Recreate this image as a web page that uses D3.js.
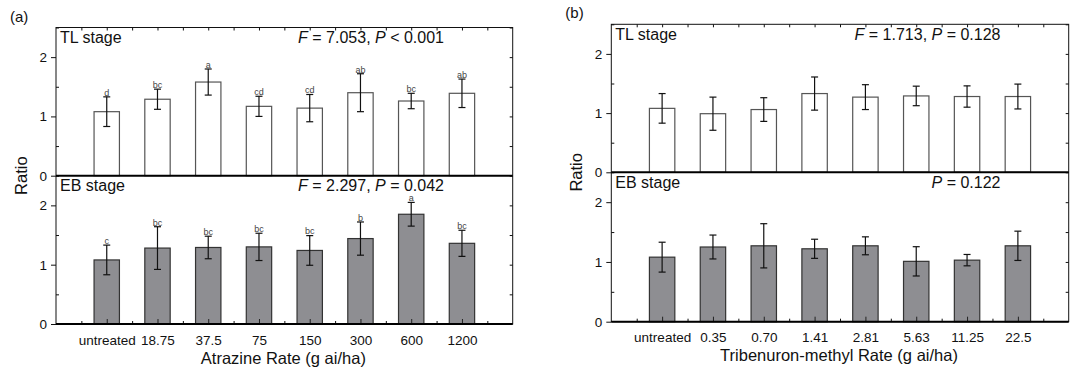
<!DOCTYPE html>
<html>
<head>
<meta charset="utf-8">
<script src="https://cdn.jsdelivr.net/npm/d3@7"></script>
<style>
  body { margin: 0; background: #fff; }
  svg { font-family: "Liberation Sans", Arial, sans-serif; }
</style>
</head>
<body>
<svg id="chart" width="1072" height="370"></svg>
<script>
// categories
const atrazineRates = ["untreated", "18.75", "37.5", "75", "150", "300", "600", "1200"];
const tribenuronRates = ["untreated", "0.35", "0.70", "1.41", "2.81", "5.63", "11.25", "22.5"];

// atrazine series
const atrazineTL = [1.08, 1.29, 1.58, 1.17, 1.14, 1.40, 1.26, 1.39];
const atrazineTLErr = [0.25, 0.17, 0.22, 0.17, 0.23, 0.32, 0.13, 0.24];
const atrazineTLLetters = ["d", "bc", "a", "cd", "cd", "ab", "bc", "ab"];
const atrazineEB = [1.08, 1.28, 1.29, 1.30, 1.24, 1.44, 1.85, 1.36];
const atrazineEBErr = [0.25, 0.36, 0.19, 0.23, 0.25, 0.28, 0.20, 0.22];
const atrazineEBLetters = ["c", "bc", "bc", "bc", "bc", "b", "a", "bc"];

// tribenuron-methyl series
const tribenuronTL = [1.08, 0.99, 1.06, 1.33, 1.27, 1.29, 1.28, 1.28];
const tribenuronTLErr = [0.25, 0.28, 0.20, 0.28, 0.21, 0.165, 0.18, 0.21];
const tribenuronEB = [1.08, 1.25, 1.27, 1.22, 1.27, 1.01, 1.03, 1.27];
const tribenuronEBErr = [0.25, 0.20, 0.37, 0.16, 0.15, 0.245, 0.095, 0.245];

const yTicks = [0, 1, 2];
const yMinorTicks = [0.5, 1.5, 2.5];

const svg = d3.select('#chart');

function drawStage(g, x, y, values, errs, letters, fill, stroke, left, right) {
  const barW = x(1.5) - x(1);
  // bars
  g.selectAll('rect.bar')
    .data(values)
    .enter().append('rect')
    .attr('class', 'bar')
    .attr('x', (d, i) => x(i + 1) - barW / 2)
    .attr('width', barW)
    .attr('y', d => y(d))
    .attr('height', d => y(0) - y(d))
    .style('fill', fill)
    .style('stroke', stroke)
    .style('stroke-width', 1.2);
  // error bars
  const eb = g.append('g').attr('class', 'errors');
  values.forEach((v, i) => {
    const cx = x(i + 1);
    eb.append('line')
      .attr('x1', cx).attr('x2', cx)
      .attr('y1', y(v - errs[i])).attr('y2', y(v + errs[i]))
      .style('stroke', '#111').style('stroke-width', 1.2);
    [v - errs[i], v + errs[i]].forEach(e => {
      eb.append('line')
        .attr('x1', cx - 3.5).attr('x2', cx + 3.5)
        .attr('y1', y(e)).attr('y2', y(e))
        .style('stroke', '#111').style('stroke-width', 1.2);
    });
  });
  // significance letters
  if (letters) {
    g.selectAll('text.letter')
      .data(letters)
      .enter().append('text')
      .attr('class', 'letter')
      .attr('x', (d, i) => x(i + 1))
      .attr('y', (d, i) => y(values[i] + errs[i]) - 1.2)
      .attr('text-anchor', 'middle')
      .style('font-size', '9px')
      .style('fill', '#444')
      .text(d => d);
  }
  // left axis: major outward, minor inward
  g.append('g')
    .attr('transform', `translate(${left},0)`)
    .call(d3.axisLeft(y).tickValues(yTicks).tickSize(5).tickPadding(4).tickFormat(d3.format('d')))
    .call(a => a.select('.domain').remove())
    .call(a => a.selectAll('text').style('font-size', '13.5px').style('fill', '#111').attr('font-family', null))
    .call(a => a.selectAll('line').style('stroke', '#111'));
  g.append('g')
    .attr('transform', `translate(${left},0)`)
    .call(d3.axisRight(y).tickValues(yMinorTicks).tickSize(3).tickFormat(''))
    .call(a => a.select('.domain').remove())
    .call(a => a.selectAll('line').style('stroke', '#111'));
  // right axis ticks inward
  g.append('g')
    .attr('transform', `translate(${right},0)`)
    .call(d3.axisLeft(y).tickValues([0.5, 1, 1.5, 2, 2.5]).tickSize(3).tickFormat(''))
    .call(a => a.select('.domain').remove())
    .call(a => a.selectAll('line').style('stroke', '#111'));
}

function drawPanel(p) {
  const g = svg.append('g');
  const x = d3.scaleLinear().domain([0, 9]).range([p.left, p.right]);
  const yTop = d3.scaleLinear().domain([0, 2.5]).range([p.mid, p.top]);
  const yBot = d3.scaleLinear().domain([0, 2.5]).range([p.bottom, p.mid]);

  drawStage(g.append('g'), x, yTop, p.tl, p.tlErr, p.tlLetters, '#fff', '#555', p.left, p.right);
  drawStage(g.append('g'), x, yBot, p.eb, p.ebErr, p.ebLetters, '#8e8e92', '#333', p.left, p.right);

  // frame
  g.append('rect')
    .attr('x', p.left).attr('y', p.top)
    .attr('width', p.right - p.left).attr('height', p.bottom - p.top)
    .style('fill', 'none').style('stroke', '#111').style('stroke-width', 1);

  const half = d3.range(0.5, 9, 1);
  const whole = d3.range(1, 9);
  // top axis ticks inward
  g.append('g')
    .attr('transform', `translate(0,${p.top})`)
    .call(d3.axisBottom(x).tickValues(d3.range(0.5, 9, 0.5)).tickSize(3).tickFormat(''))
    .call(a => a.select('.domain').remove())
    .call(a => a.selectAll('line').style('stroke', '#111'));
  // middle divider
  g.append('line')
    .attr('x1', p.left).attr('x2', p.right)
    .attr('y1', p.mid).attr('y2', p.mid)
    .style('stroke', '#000').style('stroke-width', 2);
  // bottom axis: major ticks inward at categories, minor between
  g.append('g')
    .attr('transform', `translate(0,${p.bottom})`)
    .call(d3.axisTop(x).tickValues(whole).tickSize(5).tickFormat(''))
    .call(a => a.select('.domain').remove())
    .call(a => a.selectAll('line').style('stroke', '#222'));
  g.append('g')
    .attr('transform', `translate(0,${p.bottom})`)
    .call(d3.axisTop(x).tickValues(half).tickSize(3).tickFormat(''))
    .call(a => a.select('.domain').remove())
    .call(a => a.selectAll('line').style('stroke', '#111'));
  g.append('g')
    .attr('transform', `translate(0,${p.bottom})`)
    .call(d3.axisBottom(x).tickValues(whole).tickSize(0).tickPadding(11)
      .tickFormat(d => p.rates[d - 1]))
    .call(a => a.select('.domain').remove())
    .call(a => a.selectAll('text').style('font-size', '13.5px').style('fill', '#111').attr('font-family', null));
  g.append('line')
    .attr('x1', p.left).attr('x2', p.right)
    .attr('y1', p.bottom).attr('y2', p.bottom)
    .style('stroke', '#000').style('stroke-width', 2);

  // stage labels and statistics
  const label = (tx, ty, anchor) => g.append('text')
    .attr('x', tx).attr('y', ty)
    .attr('text-anchor', anchor)
    .style('font-size', '16px').style('fill', '#111');
  label(p.left + 4, p.top + 15.5, 'start').text('TL stage');
  label(p.left + 4, p.mid + 15.5, 'start').text('EB stage');
  const stat = (ty, parts) => {
    const t = label(p.statEnd, ty, 'end');
    parts.forEach(([s, it]) => t.append('tspan').style('font-style', it ? 'italic' : 'normal').text(s));
  };
  stat(p.top + 15.5, p.tlStat);
  stat(p.mid + 15.5, p.ebStat);

  // panel letter
  svg.append('text')
    .attr('x', p.left - 46).attr('y', p.top - 6)
    .style('font-size', '15px').style('fill', '#111')
    .text(p.name);
  // y title
  svg.append('text')
    .attr('transform', `translate(${p.left - 29.5},${p.mid}) rotate(-90)`)
    .attr('text-anchor', 'middle')
    .style('font-size', '16.5px').style('fill', '#111')
    .text('Ratio');
  // x title
  svg.append('text')
    .attr('x', (p.left + p.right) / 2 - 1).attr('y', p.bottom + 39.5)
    .attr('text-anchor', 'middle')
    .style('font-size', '16.5px').style('fill', '#111')
    .text(p.xTitle);
}

drawPanel({
  name: '(a)', left: 56, right: 512.7, top: 27.5, mid: 175.7, bottom: 324,
  rates: atrazineRates,
  tl: atrazineTL, tlErr: atrazineTLErr, tlLetters: atrazineTLLetters,
  eb: atrazineEB, ebErr: atrazineEBErr, ebLetters: atrazineEBLetters,
  statEnd: 444,
  tlStat: [['F', true], [' = 7.053, ', false], ['P', true], [' < 0.001', false]],
  ebStat: [['F', true], [' = 2.297, ', false], ['P', true], [' = 0.042', false]],
  xTitle: 'Atrazine Rate (g ai/ha)'
});

drawPanel({
  name: '(b)', left: 611.3, right: 1068.7, top: 24.3, mid: 172.3, bottom: 321.7,
  rates: tribenuronRates,
  tl: tribenuronTL, tlErr: tribenuronTLErr, tlLetters: null,
  eb: tribenuronEB, ebErr: tribenuronEBErr, ebLetters: null,
  statEnd: 1000.5,
  tlStat: [['F', true], [' = 1.713, ', false], ['P', true], [' = 0.128', false]],
  ebStat: [['P', true], [' = 0.122', false]],
  xTitle: 'Tribenuron-methyl Rate (g ai/ha)'
});
</script>
</body>
</html>
